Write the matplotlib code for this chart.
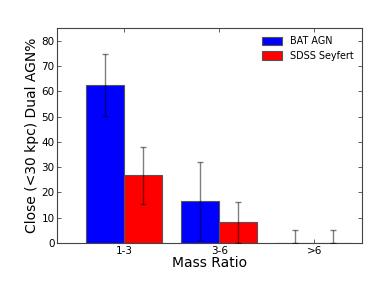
import matplotlib
matplotlib.use("Agg")
import matplotlib.pyplot as plt
import numpy as np

categories = ["1-3", "3-6", ">6"]
bat_values = [62.5, 16.7, 0.0]
bat_err_low = [12.3, 15.4, 0.0]
bat_err_high = [12.3, 15.3, 5.0]
sdss_values = [26.7, 8.3, 0.0]
sdss_err_low = [11.4, 8.3, 0.0]
sdss_err_high = [11.4, 8.0, 5.0]
yticks = [0, 10, 20, 30, 40, 50, 60, 70, 80]

fig = plt.figure(figsize=(3.82, 2.86), dpi=100)
ax = fig.add_axes([0.150, 0.151, 0.798, 0.750])

ind = np.arange(len(categories))
w = 0.4
ax.bar(ind, bat_values, w, align="edge", color="blue", edgecolor="#555555", linewidth=0.8,
       label="BAT AGN", zorder=2)
ax.bar(ind + w, sdss_values, w, align="edge", color="red", edgecolor="#555555", linewidth=0.8,
       label="SDSS Seyfert", zorder=2)
ax.errorbar(ind + w / 2, bat_values, yerr=[bat_err_low, bat_err_high], fmt="none",
            ecolor="black", alpha=0.5, elinewidth=1.0, capsize=2, capthick=1.0, zorder=3)
ax.errorbar(ind + 1.5 * w, sdss_values, yerr=[sdss_err_low, sdss_err_high], fmt="none",
            ecolor="black", alpha=0.5, elinewidth=1.0, capsize=2, capthick=1.0, zorder=3)

ax.set_xlim(-0.305, 2.905)
ax.set_ylim(0, 85)
ax.set_xticks(ind + w)
ax.set_xticklabels(categories, fontsize=7.5)
ax.set_yticks(yticks)
ax.set_yticklabels([str(v) for v in yticks], fontsize=7.5)
ax.tick_params(direction="in", top=True, right=True, length=3, width=0.6, color="#444444", pad=2)
for s in ax.spines.values():
    s.set_linewidth(0.8)
    s.set_color("#444444")

ax.set_xlabel("Mass Ratio", fontsize=10, labelpad=0)
ax.set_ylabel("Close (<30 kpc) Dual AGN%", fontsize=10, labelpad=2)

ax.legend(loc="upper right", frameon=False, fontsize=6.9,
          handlelength=2.1, handleheight=1.0, borderaxespad=0.45, labelspacing=0.45,
          handletextpad=0.85)

fig.savefig("out.png", dpi=100)
